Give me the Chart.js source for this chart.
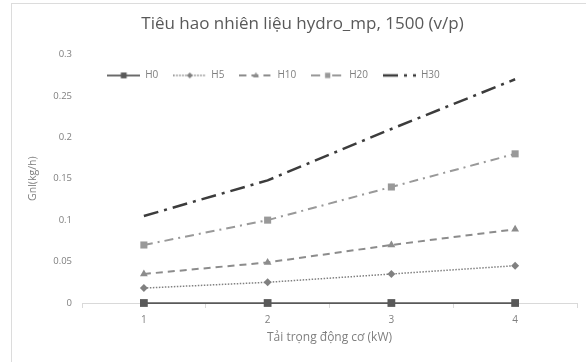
<!DOCTYPE html>
<html>
<head>
<meta charset="utf-8">
<script src="https://cdn.jsdelivr.net/npm/chart.js@4.4.1/dist/chart.umd.min.js"></script>
<style>
  body { margin: 0; background: #fff; }
  #frame { position: absolute; left: 11px; top: 3px; width: 620px; height: 420px; border: 1px solid #dcdcdc; }
  #wrap { position: absolute; left: 0; top: 0; width: 586px; height: 362px; }
</style>
</head>
<body>
<div id="frame"></div>
<div id="wrap"><canvas id="chart1" width="586" height="362"></canvas></div>
<script>
// values
var categories = ['1', '2', '3', '4']
var seriesNames = ['H0', 'H5', 'H10', 'H20', 'H30']
var h0 = [0, 0, 0, 0]
var h5 = [0.018, 0.025, 0.035, 0.045]
var h10 = [0.035, 0.049, 0.07, 0.089]
var h20 = [0.07, 0.1, 0.14, 0.18]
var h30 = [0.105, 0.148, 0.21, 0.27]

var FONT = '"Open Sans", Lato, sans-serif'
var TEXT = '#7f7f7f'

// little line+marker picture for the legend, taken from the dataset style
function legendIcon(ds){
  var c = document.createElement('canvas')
  c.width = 33; c.height = 12
  var g = c.getContext('2d')
  g.strokeStyle = ds.borderColor
  g.lineWidth = ds.borderWidth
  g.setLineDash(ds.borderDash || [])
  g.beginPath(); g.moveTo(0, 6); g.lineTo(33, 6); g.stroke()
  g.setLineDash([])
  g.fillStyle = ds.pointBackgroundColor
  var r = ds.pointRadius * 0.75
  if(ds.pointStyle === 'rect'){
    var s = r * Math.SQRT1_2
    g.fillRect(16.5 - s, 6 - s, 2*s, 2*s)
  } else if(ds.pointStyle === 'rectRot'){
    g.beginPath(); g.moveTo(16.5 - r, 6); g.lineTo(16.5, 6 - r); g.lineTo(16.5 + r, 6); g.lineTo(16.5, 6 + r); g.closePath(); g.fill()
  } else if(ds.pointStyle === 'triangle'){
    g.beginPath(); g.moveTo(16.5, 6 - r); g.lineTo(16.5 + r*0.9, 6 + r*0.6); g.lineTo(16.5 - r*0.9, 6 + r*0.6); g.closePath(); g.fill()
  }
  return c
}

function makeSet(label, data, color, width, dash, style, radius){
  return {
    label: label,
    data: data,
    borderColor: color,
    backgroundColor: color,
    pointBackgroundColor: color,
    pointBorderColor: color,
    borderWidth: width,
    borderDash: dash,
    pointStyle: style,
    pointRadius: radius,
    pointBorderWidth: 0,
    tension: 0,
    fill: false,
    clip: false
  }
}

var datasets = [
  makeSet(seriesNames[0], h0, '#595959', 1.75, [], 'rect', 5.5),
  makeSet(seriesNames[1], h5, '#808080', 1.5, [1.5, 1.5], 'rectRot', 4),
  makeSet(seriesNames[2], h10, '#8c8c8c', 2, [7, 5], 'triangle', 4.5),
  makeSet(seriesNames[3], h20, '#999999', 2, [9, 5, 2, 5], 'rect', 5),
  makeSet(seriesNames[4], h30, '#3c3c3c', 2.5, [15, 6, 3, 6], 'circle', 0)
]

// Excel puts the legend on top of the plot, so it takes no room and is nudged
var placeBoxes = {
  id: 'placeBoxes',
  beforeLayout(chart){
    var lg = chart.legend
    if(lg && !lg._flat){
      var fit = lg.fit.bind(lg)
      lg.fit = function(){ fit(); this.height = 0 }
      lg._flat = true
    }
  },
  afterLayout(chart){
    var lg = chart.legend
    lg.left -= 15; lg.right -= 15
    lg.top += 1
    lg.bottom = lg.top + 40; lg.height = 40
    chart.titleBlock.left += 14; chart.titleBlock.right += 14
  }
}

const ctx = document.getElementById('chart1').getContext('2d')
const chart1 = new Chart(ctx, {
  type: 'line',
  data: { labels: categories, datasets: datasets },
  plugins: [placeBoxes],
  options: {
    responsive: false,
    animation: false,
    devicePixelRatio: 1,
    layout: { padding: { left: 0, right: 9, top: 0, bottom: 0 } },
    plugins: {
      tooltip: { enabled: false },
      title: {
        display: true,
        text: 'Tiêu hao nhiên liệu hydro_mp, 1500 (v/p)',
        color: '#595959',
        font: { family: FONT, size: 17, weight: 'normal' },
        padding: { top: 14, bottom: 20 }
      },
      legend: {
        display: true,
        position: 'top',
        labels: {
          usePointStyle: true,
          pointStyleWidth: 33,
          padding: 15,
          color: TEXT,
          font: { family: FONT, size: 10 },
          generateLabels: (chart) => chart.data.datasets.map((ds, i) => ({
            text: ds.label,
            pointStyle: legendIcon(ds),
            datasetIndex: i,
            fontColor: TEXT,
            lineWidth: 0,
            strokeStyle: 'rgba(0,0,0,0)',
            fillStyle: 'rgba(0,0,0,0)',
            hidden: false
          }))
        }
      }
    },
    scales: {
      x: {
        offset: true,
        border: { display: true, color: '#d9d9d9', width: 1 },
        grid: { display: true, drawOnChartArea: false, drawTicks: true, tickLength: 5, color: '#d9d9d9', offset: true },
        ticks: { color: TEXT, padding: 6, font: { family: FONT, size: 10 } },
        title: {
          display: true,
          text: 'Tải trọng động cơ (kW)',
          color: TEXT,
          font: { family: FONT, size: 12 },
          padding: { top: 4, bottom: 17 }
        },
        afterFit: (s) => { s.height = 59 }
      },
      y: {
        min: 0,
        max: 0.3,
        border: { display: false },
        grid: { display: false, drawTicks: false },
        ticks: {
          stepSize: 0.05, color: TEXT, padding: 10, font: { family: FONT, size: 9.5 },
          callback: (v) => String(Math.round(v * 100) / 100)
        },
        title: {
          display: true,
          text: 'Gnl(kg/h)',
          color: TEXT,
          font: { family: FONT, size: 10.5 },
          padding: { top: 27, bottom: 0 }
        },
        afterFit: (s) => { s.width = 82 }
      }
    }
  }
})
</script>
</body>
</html>
